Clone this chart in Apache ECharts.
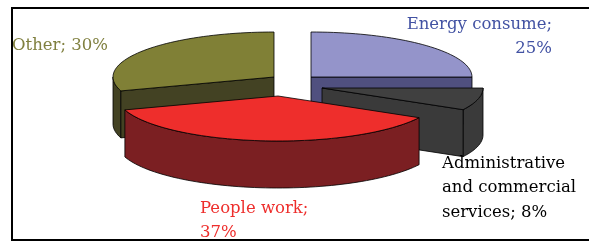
<!DOCTYPE html>
<html>
<head>
<meta charset="utf-8">
<script src="https://cdn.jsdelivr.net/npm/echarts@6/dist/echarts.min.js"></script>
<style>
html, body { margin: 0; padding: 0; background: #fff; }
#container { width: 589px; height: 242px; }
</style>
</head>
<body>
<div id="container"></div>
<script>
// data
var categories = ['Energy consume', 'Administrative and commercial services', 'People work', 'Other'];
var shares = [25, 8, 37, 30];

// 3d pie look (excel style, exploded)
var pie = { cx: 294, cy: 84, rx: 161, ry: 45, depth: 47 };
var explode = [[17, -7], [28, 4], [-16, 12], [-20, -7]];
var topColors = ['#9494ca', '#404040', '#ee2e2c', '#808036'];
var sideColors = ['#50507f', '#3a3a3a', '#7b1f22', '#434223'];
var labelColors = ['#4252a3', '#000000', '#ee2e2c', '#808040'];
var labelPos = [
    { x: 552, y: 12, align: 'right', width: 175, sep: ';\n' },
    { x: 442, y: 151, align: 'left', width: 150, sep: '; ' },
    { x: 200, y: 196, align: 'left', width: 125, sep: ';\n' },
    { x: 12, y: 33, align: 'left', width: 150, sep: '; ' }
];
var FONT = '16.5px "DejaVu Serif"';

var total = 0;
for (var k = 0; k < shares.length; k++) total += shares[k];

// tiny helper so no jquery is needed
var $ = { extend: function (a, b) { for (var p in b) a[p] = b[p]; return a; } };

function rim(c, deg, dy) {
    var t = deg * Math.PI / 180;
    return [c[0] + pie.rx * Math.sin(t), c[1] - pie.ry * Math.cos(t) + (dy || 0)];
}
function arc(c, from, to, dy) {
    var pts = [];
    var n = Math.max(2, Math.ceil(Math.abs(to - from) / 2));
    for (var i = 0; i <= n; i++) pts.push(rim(c, from + (to - from) * i / n, dy));
    return pts;
}

function renderItem(params, api) {
    var i = params.dataIndex;
    var start = 0;
    for (var k = 0; k < i; k++) start += shares[k] / total * 360;
    var end = start + api.value(0) / total * 360;
    var mid = (start + end) / 2;
    var c = [pie.cx + explode[i][0], pie.cy + explode[i][1]];
    // slices nearer the viewer are painted later
    var zBase = Math.round((1 - Math.cos(mid * Math.PI / 180)) * 100);
    var line = { stroke: '#000', lineWidth: 0.8, lineJoin: 'round' };
    var children = [];

    // outer wall, front half only
    var s = Math.max(start, 90), e = Math.min(end, 270);
    if (e > s) {
        children.push({
            type: 'polygon',
            shape: { points: arc(c, s, e, 0).concat(arc(c, e, s, pie.depth)) },
            style: $.extend({ fill: sideColors[i] }, line),
            z2: zBase
        });
    }
    // cut faces
    var faces = [];
    if (Math.sin(start * Math.PI / 180) < -0.01) faces.push(start);
    if (Math.sin(end * Math.PI / 180) > 0.01) faces.push(end);
    faces.forEach(function (ang) {
        children.push({
            type: 'polygon',
            shape: { points: [c, rim(c, ang, 0), rim(c, ang, pie.depth), [c[0], c[1] + pie.depth]] },
            style: $.extend({ fill: sideColors[i] }, line),
            z2: zBase + 1
        });
    });
    // top
    children.push({
        type: 'polygon',
        shape: { points: [c].concat(arc(c, start, end, 0)) },
        style: $.extend({ fill: topColors[i] }, line),
        z2: zBase + 2
    });
    // label
    var lp = labelPos[i];
    children.push({
        type: 'text',
        style: {
            text: categories[i] + lp.sep + api.value(0) + '%',
            x: lp.x,
            y: lp.y,
            width: lp.width,
            overflow: 'break',
            align: lp.align,
            verticalAlign: 'top',
            lineHeight: 24.5,
            font: FONT,
            fill: labelColors[i]
        },
        z2: 1000
    });
    return { type: 'group', children: children };
}

var chart = echarts.init(document.getElementById('container'));
chart.setOption({
    animation: false,
    series: [{
        type: 'custom',
        coordinateSystem: 'none',
        renderItem: renderItem,
        data: shares.map(function (v) { return [v]; })
    }],
    graphic: [{
        type: 'rect',
        shape: { x: 12, y: 8, width: 600, height: 232 },
        style: { fill: 'none', stroke: '#000', lineWidth: 2 },
        z: 100
    }]
});
</script>
</body>
</html>
